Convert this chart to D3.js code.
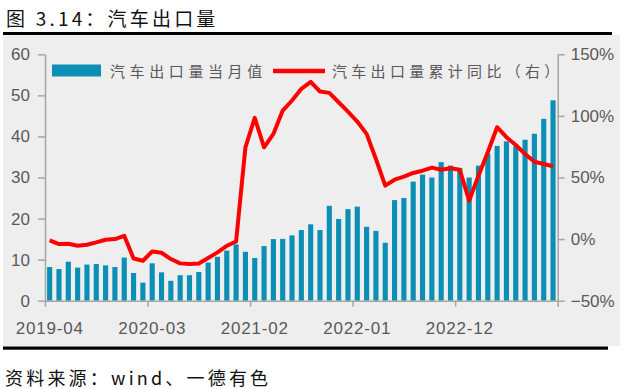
<!DOCTYPE html>
<html lang="zh">
<head>
<meta charset="UTF-8">
<title>汽车出口量</title>
<script src="https://d3js.org/d3.v7.min.js"></script>
<style>
  body { margin: 0; background: #fff; }
  svg { display: block; }
  text { font-family: "Liberation Sans", Arial, sans-serif; }
  .cjk { font-family: "Noto Sans CJK SC", sans-serif; }
</style>
</head>
<body>
<div id="chart"></div>
<script>
// months (x categories)
const months = [
  "2019-04","2019-05","2019-06","2019-07","2019-08","2019-09","2019-10","2019-11","2019-12",
  "2020-01","2020-02","2020-03","2020-04","2020-05","2020-06","2020-07","2020-08","2020-09","2020-10","2020-11","2020-12",
  "2021-01","2021-02","2021-03","2021-04","2021-05","2021-06","2021-07","2021-08","2021-09","2021-10","2021-11","2021-12",
  "2022-01","2022-02","2022-03","2022-04","2022-05","2022-06","2022-07","2022-08","2022-09","2022-10","2022-11","2022-12",
  "2023-01","2023-02","2023-03","2023-04","2023-05","2023-06","2023-07","2023-08","2023-09","2023-10"
];
// 汽车出口量当月值 (万辆, left axis)
const monthly = [
  8.2, 7.7, 9.5, 8.05, 8.8, 8.95, 8.6, 8.2, 10.5,
  6.75, 4.4, 9.1, 6.9, 4.85, 6.2, 6.2, 7.0, 9.3, 10.7, 12.2, 13.7,
  11.9, 10.4, 13.3, 15.0, 15.05, 15.9, 17.2, 18.6, 17.2, 23.1, 19.9, 22.3,
  22.9, 18.0, 17.0, 14.1, 24.5, 25.0, 29.0, 30.7, 30.0, 33.75, 32.9, 32.3,
  30.0, 32.9, 35.8, 37.7, 38.8, 37.6, 39.2, 40.65, 44.3, 48.8
];
// 汽车出口量累计同比 (%, right axis)
const cumYoy = [
  -1, -4, -3.8, -5.4, -4.6, -2.7, -0.5, 0, 2.7,
  -15.7, -17.6, -10, -11.1, -16.2, -19.7, -20.3, -19.8, -15.4, -10.8, -5.4, -1.9,
  74.5, 98.4, 74.5, 85.4, 104.3, 112.5, 122, 127.6, 119.8, 118.7, 111.1, 103.5,
  95.4, 85.4, 65, 43.4, 48.2, 50.7, 53.7, 55.5, 58, 56.3, 57.5, 56.3,
  31.1, 51.5, 70.5, 90.8, 82.7, 76.4, 69.1, 62.8, 61, 59.1
];
const xLabels = ["2019-04", "2020-03", "2021-02", "2022-01", "2022-12"];
const leftTicks = [0, 10, 20, 30, 40, 50, 60];
const rightTicks = [-50, 0, 50, 100, 150];

const W = 625, H = 389;
const plotL = 45, plotR = 557.7, plotT = 54.3, plotB = 300.7;
const axisColor = "#a6a6a6", textColor = "#595959";

const svg = d3.select("#chart").append("svg")
  .attr("width", W).attr("height", H);

// title
svg.append("text").attr("class", "cjk")
  .attr("x", 6).attr("y", 26)
  .attr("font-size", 19).attr("letter-spacing", 3.2).attr("fill", "#111")
  .text("图 3.14：汽车出口量");

// panel + rules
svg.append("rect").attr("x", 3).attr("y", 35).attr("width", 617).attr("height", 311)
  .attr("fill", "#efeeef");
svg.append("rect").attr("x", 3).attr("y", 32).attr("width", 609).attr("height", 3).attr("fill", "#000");
svg.append("rect").attr("x", 3).attr("y", 346.5).attr("width", 605).attr("height", 3.2).attr("fill", "#000");

// source
svg.append("text").attr("class", "cjk")
  .attr("x", 5).attr("y", 385)
  .attr("font-size", 18).attr("letter-spacing", 3.2).attr("fill", "#111")
  .text("资料来源：wind、一德有色");

// scales
const x = d3.scaleBand().domain(months).range([plotL, plotR])
  .paddingInner(0.45).paddingOuter(0.225);
const xIdx = d3.scaleLinear().domain([0, months.length]).range([plotL, plotR]);
const yL = d3.scaleLinear().domain([0, 60]).range([plotB, plotT]);
const yR = d3.scaleLinear().domain([-50, 150]).range([plotB, plotT]);

// bars
svg.append("g").selectAll("rect").data(monthly).join("rect")
  .attr("x", (d, i) => x(months[i]))
  .attr("width", x.bandwidth())
  .attr("y", d => yL(d))
  .attr("height", d => yL(0) - yL(d))
  .attr("fill", "#0b8fb4");

// line
const line = d3.line()
  .x((d, i) => x(months[i]) + x.bandwidth() / 2)
  .y(d => yR(d));
svg.append("path").datum(cumYoy)
  .attr("fill", "none").attr("stroke", "#ff0000")
  .attr("stroke-width", 4).attr("stroke-linejoin", "round")
  .attr("d", line);

// axes
function styleAxis(g) {
  g.selectAll(".domain").attr("stroke", axisColor).attr("stroke-width", 1.5);
  g.selectAll(".tick line").attr("stroke", axisColor).attr("stroke-width", 1.5);
  g.selectAll(".tick text").attr("fill", textColor)
    .attr("font-family", "Liberation Sans, Arial, sans-serif").attr("font-size", 17);
}
svg.append("g").attr("transform", `translate(${plotL},0)`)
  .call(d3.axisLeft(yL).tickValues(leftTicks).tickSize(7).tickPadding(8).tickSizeOuter(0))
  .call(styleAxis);
svg.append("g").attr("transform", `translate(${plotR},0)`)
  .call(d3.axisRight(yR).tickValues(rightTicks).tickSize(7).tickPadding(6).tickSizeOuter(0)
    .tickFormat(d => (d < 0 ? "\u2212" + Math.abs(d) : d) + "%"))
  .call(styleAxis);
svg.append("g").attr("transform", `translate(0,${plotB})`)
  .call(d3.axisBottom(xIdx).tickValues([0, 11, 22, 33, 44, 55]).tickSize(6).tickSizeOuter(0).tickFormat(""))
  .call(styleAxis);

svg.append("g").selectAll("text").data(xLabels).join("text")
  .attr("x", d => x(d) + x.bandwidth() / 2)
  .attr("y", 334)
  .attr("text-anchor", "middle")
  .attr("font-size", 17).attr("letter-spacing", 0.8).attr("fill", textColor)
  .text(d => d);

// legend
const lg = svg.append("g");
lg.append("rect").attr("x", 52).attr("y", 64.5).attr("width", 49).attr("height", 12).attr("fill", "#0b8fb4");
lg.append("text").attr("class", "cjk").attr("x", 110).attr("y", 77)
  .attr("font-size", 15).attr("letter-spacing", 4.6).attr("fill", textColor)
  .text("汽车出口量当月值");
lg.append("line").attr("x1", 273).attr("x2", 325).attr("y1", 71).attr("y2", 71)
  .attr("stroke", "#ff0000").attr("stroke-width", 4.5);
lg.append("text").attr("class", "cjk").attr("x", 332).attr("y", 77)
  .attr("font-size", 15).attr("letter-spacing", 4.3).attr("fill", textColor)
  .text("汽车出口量累计同比（右）");
</script>
</body>
</html>
